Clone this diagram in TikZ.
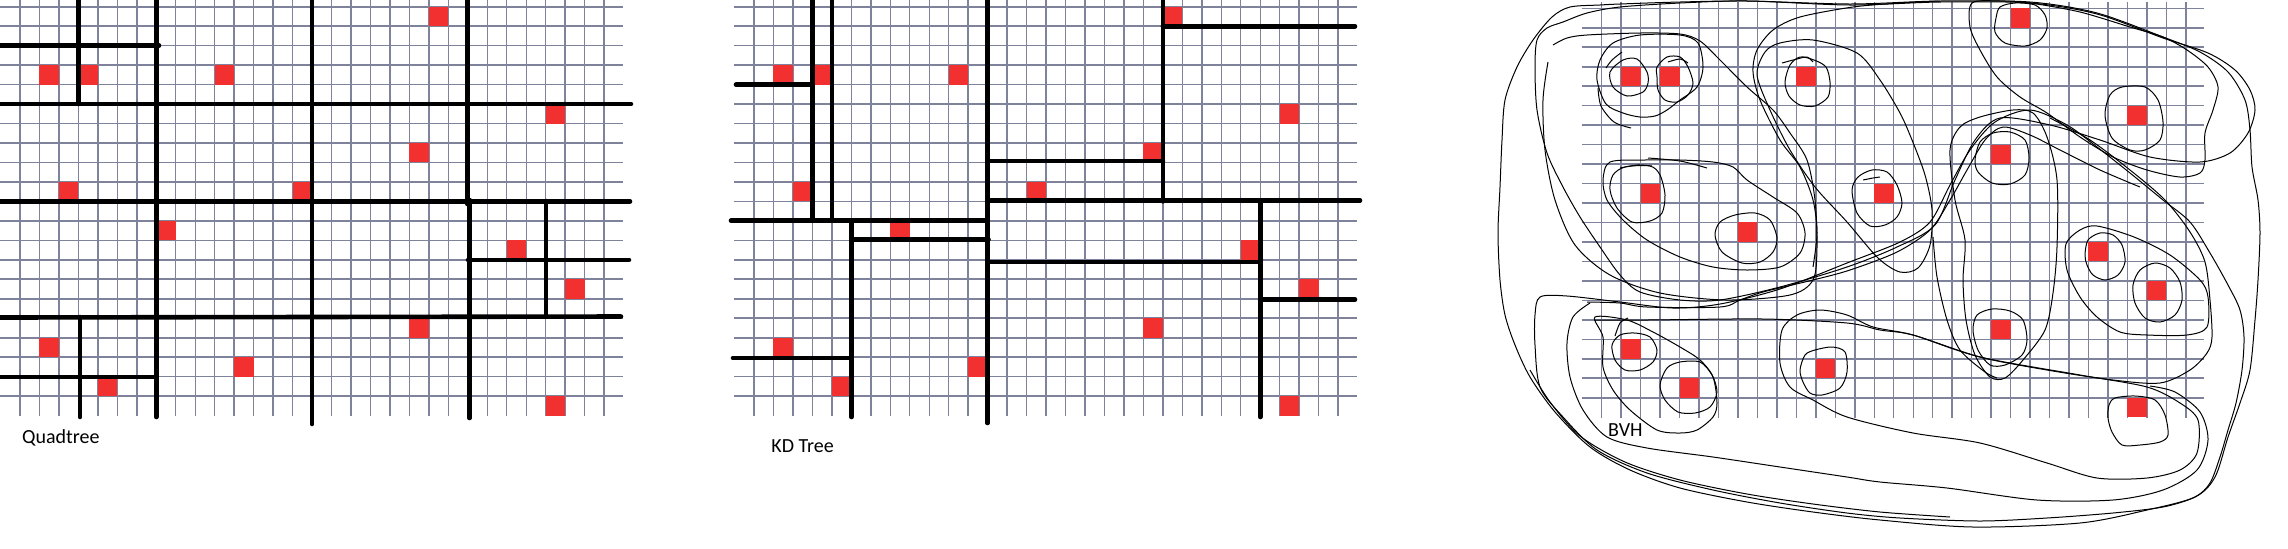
\documentclass[tikz,border=0pt]{standalone}
\usepackage{fontspec}
\setmainfont{Carlito}
\definecolor{gridc}{RGB}{126,130,155}
\definecolor{sqred}{RGB}{242,48,48}
\newcommand\gridpanel[2]{%
  \foreach \k in {0,...,30}{\draw[gridv] ({#1+20+19.47*\k},{#2}) -- ({#1+20+19.47*\k},{#2+416});}
  \foreach \j in {0,...,20}{\draw[gridh] ({#1},{#2+6.7+19.47*\j}) -- ({#1+622.7},{#2+6.7+19.47*\j});}
}
\newcommand\cellsq[4]{\fill[sq] ({#1+20+19.47*#3},{#2+6.7+19.47*#4}) rectangle ++(19.47,19.47);}
\newcommand\allsq[2]{\foreach \c/\r in {21/0,1/3,3/3,10/3,27/5,20/7,2/9,14/9,7/11,25/12,28/14,20/16,1/17,11/18,4/19,27/20}{\cellsq{#1}{#2}{\c}{\r}}}
\begin{document}
\begin{tikzpicture}[x=0.5pt,y=-0.5pt,
  gridv/.style={draw=gridc, line width=0.7pt},
  gridh/.style={draw=gridc, line width=0.8pt},
  sq/.style={fill=sqred},
  cutline/.style={line width=2.3pt, line cap=round, black},
  bvh/.style={line width=0.5pt, black},
  lbl/.style={anchor=base west, inner sep=0pt, font=\fontsize{10}{12}\selectfont}]
\useasboundingbox (0,0) rectangle (2288,548);
\fill[white] (0,0) rectangle (2288,548);
% ---------- grids and points ----------
\gridpanel{0}{0}
\gridpanel{734}{0}
\gridpanel{1581.7}{1.6}
\allsq{0}{0}
\allsq{734}{0}
\allsq{1581.7}{1.6}
% ---------- Quadtree ----------
\draw[cutline] (78.4,0) -- (78.4,104);
\draw[cutline] (156.3,0) -- (156.3,417);
\draw[cutline] (312,0) -- (312,424);
\draw[cutline] (467.5,0) -- (467.5,204);
\draw[cutline] (469.5,200) -- (469.5,418);
\draw[cutline] (546,201) -- (546,315);
\draw[cutline] (80,317) -- (80,417);
\draw[cutline] (0,45.6) -- (159,45.6);
\draw[cutline] (0,104) -- (631,104);
\draw[cutline] (0,201.4) -- (630,201.4);
\draw[cutline] (468,259.8) -- (629,259.8);
\draw[cutline] (0,317.5) -- (621,316.5);
\draw[cutline] (0,377) -- (155,377);
\node[lbl] (qlabel) at (21.7,443) {Quadtree};
% ---------- KD tree ----------
\draw[cutline] (812.4,0) -- (812.4,220.6);
\draw[cutline] (831.9,0) -- (831.9,220.6);
\draw[cutline] (851.4,220.6) -- (851.4,417);
\draw[cutline] (987.6,0) -- (987.6,423);
\draw[cutline] (1162.9,0) -- (1162.9,201.4);
\draw[cutline] (1260.2,201.4) -- (1260.2,417);
\draw[cutline] (736,84.6) -- (812.4,84.6);
\draw[cutline] (1162.9,26.2) -- (1355,26.2);
\draw[cutline] (987.6,161) -- (1163,161);
\draw[cutline] (987.6,200.5) -- (1360,200.5);
\draw[cutline] (731,220.6) -- (987.6,220.6);
\draw[cutline] (851.4,239.5) -- (988.5,239.5);
\draw[cutline] (987.6,262) -- (1260.2,262);
\draw[cutline] (1260.2,299.5) -- (1355,299.5);
\draw[cutline] (733,358) -- (851.4,358);
\node[lbl] (kdlabel) at (771,452.7) {KD Tree};
% ---------- BVH ----------
\node[lbl] (bvhlabel) at (1607.7,436.7) {BVH};
% small loops
\draw[bvh] plot[smooth cycle] coordinates {(1610,72) (1623,60) (1637,59) (1647,72) (1648,83) (1643,92) (1627,96) (1613,87)};
\draw[bvh] plot[smooth cycle] coordinates {(1657,67) (1667,57) (1680,57) (1688,67) (1693,83) (1688,95) (1677,102) (1665,100) (1658,90) (1657,77)};
\draw[bvh] plot[smooth cycle] coordinates {(1785,82) (1790,65) (1800,57) (1814,60) (1826,67) (1830,82) (1828,97) (1815,106) (1800,105) (1789,96)};
\draw[bvh] plot[smooth cycle] coordinates {(1996,18) (2000,7) (2015,3) (2035,5) (2045,15) (2047,28) (2040,40) (2025,46) (2005,43) (1995,32)};
\draw[bvh] plot[smooth cycle] coordinates {(2105,115) (2110,95) (2122,87) (2145,87) (2158,100) (2163,122) (2160,140) (2145,150) (2130,150) (2112,138)};
\draw[bvh] plot[smooth cycle] coordinates {(1975,160) (1980,142) (1993,133) (2010,132) (2025,140) (2029,158) (2025,175) (2010,184) (1992,183) (1978,172)};
\draw[bvh] plot[smooth cycle] coordinates {(1610,190) (1613,175) (1625,167) (1650,166) (1660,175) (1665,195) (1662,213) (1650,221) (1632,222) (1617,208)};
\draw[bvh] plot[smooth cycle] coordinates {(1852,190) (1858,177) (1872,170) (1887,172) (1897,185) (1902,203) (1897,217) (1885,225) (1870,226) (1857,213)};
\draw[bvh] plot[smooth cycle] coordinates {(1715,235) (1720,222) (1735,215) (1755,213) (1770,220) (1777,238) (1773,252) (1760,262) (1742,263) (1722,252)};
\draw[bvh] plot[smooth cycle] coordinates {(2085,255) (2088,240) (2100,233) (2113,235) (2122,245) (2125,262) (2118,275) (2105,280) (2093,275) (2087,265)};
\draw[bvh] plot[smooth cycle] coordinates {(2133,285) (2140,270) (2155,263) (2170,268) (2180,282) (2182,300) (2175,315) (2160,322) (2145,318) (2135,303)};
\draw[bvh] plot[smooth cycle] coordinates {(1973,330) (1977,315) (1992,309) (2010,311) (2023,320) (2027,340) (2022,355) (2005,365) (1990,365) (1978,350)};
\draw[bvh] plot[smooth cycle] coordinates {(1612,345) (1620,335) (1635,333) (1650,337) (1657,350) (1653,362) (1640,370) (1625,370) (1615,360)};
\draw[bvh] plot[smooth cycle] coordinates {(1800,370) (1805,355) (1815,350) (1832,347) (1845,352) (1847,372) (1840,388) (1822,395) (1810,393) (1803,382)};
\draw[bvh] plot[smooth cycle] coordinates {(1660,385) (1667,368) (1680,362) (1700,362) (1712,375) (1717,392) (1710,407) (1695,413) (1678,412) (1665,400)};
\draw[bvh] plot[smooth cycle] coordinates {(2108,418) (2109,405) (2115,398) (2135,396) (2155,400) (2165,415) (2168,435) (2160,442) (2140,445) (2122,445) (2112,432)};
% ticks
\draw[bvh] plot[smooth] coordinates {(1606,68) (1612,60) (1622,52)};
\draw[bvh] plot[smooth] coordinates {(1668,62) (1680,59) (1688,63)};
\draw[bvh] plot[smooth] coordinates {(1782,63) (1797,59) (1807,57) (1813,62)};
\draw[bvh] plot[smooth] coordinates {(1615,336) (1620,323) (1628,318)};
\draw[bvh] plot[smooth] coordinates {(1863,180) (1873,178) (1880,177)};
\draw[bvh] plot[smooth] coordinates {(1620,168) (1637,165) (1652,166)};
% group loops
\draw[bvh] plot[smooth cycle] coordinates {(1597,80) (1600,60) (1613,43) (1640,35) (1680,35) (1698,43) (1703,67) (1697,87) (1680,100) (1667,110) (1655,116) (1640,117) (1623,113) (1606,104)};
\draw[bvh] plot[smooth] coordinates {(1598,88) (1601,106) (1614,122) (1631,128)};
\draw[bvh] plot[smooth cycle] coordinates {(1610,162) (1603,180) (1607,200) (1623,220) (1647,240) (1680,257) (1713,267) (1747,270) (1780,267) (1800,253) (1805,233) (1797,213) (1773,197) (1747,180) (1733,167) (1713,162) (1680,160) (1645,160)};
\draw[bvh] plot[smooth] coordinates {(1648,158) (1680,161) (1707,168)};
\draw[bvh] plot[smooth cycle] coordinates {(1757,75) (1765,52) (1780,43) (1813,40) (1857,53) (1880,80) (1900,113) (1912,140) (1925,175) (1932,210) (1930,245) (1918,268) (1900,272) (1878,258) (1847,222) (1815,187) (1790,150) (1770,110)};
\draw[bvh] plot[smooth cycle] coordinates {(1972,3) (1970,27) (1980,50) (1997,77) (2020,97) (2047,113) (2080,137) (2113,157) (2147,170) (2180,177) (2200,173) (2205,160) (2205,133) (2213,110) (2218,87) (2208,67) (2187,50) (2163,37) (2130,27) (2080,12) (2030,3) (2000,1)};
\draw[bvh] plot[smooth cycle] coordinates {(1950,150) (1960,127) (1980,117) (2013,110) (2033,113) (2047,137) (2057,180) (2057,247) (2053,293) (2045,330) (2023,360) (2005,378) (1990,377) (1975,355) (1966,320) (1963,280) (1965,240) (1955,200)};
\draw[bvh] plot[smooth] coordinates {(1933,237) (1937,277) (1947,320) (1960,350) (1985,372) (1997,378)};
\draw[bvh] plot[smooth cycle] coordinates {(2066,244) (2080,230) (2097,226) (2134,237) (2170,255) (2200,280) (2208,297) (2207,327) (2187,335) (2147,335) (2120,332) (2097,317) (2080,297) (2067,270)};
\draw[bvh] plot[smooth cycle] coordinates {(1595,317) (1627,320) (1653,332) (1680,347) (1700,360) (1713,377) (1717,403) (1713,417) (1697,430) (1680,433) (1657,430) (1630,410) (1613,390) (1603,367) (1603,337)};
\draw[bvh] plot[smooth cycle] coordinates {(1782,330) (1797,315) (1820,310) (1847,315) (1873,327) (1913,335) (1980,357) (2080,375) (2147,387) (2180,403) (2198,420) (2197,453) (2180,470) (2147,478) (2097,478) (2047,463) (1980,443) (1913,433) (1847,417) (1813,400) (1790,387) (1780,363)};
% big loops
\draw[bvh] plot[smooth] coordinates {(1553,45) (1567,38) (1587,35) (1640,33) (1680,34) (1700,41) (1720,60) (1747,87) (1773,110) (1790,133) (1807,160) (1815,200) (1817,247) (1813,280) (1790,295) (1726,300) (1660,293) (1610,275) (1575,245) (1555,200) (1545,150) (1543,100) (1548,62)};
\draw[bvh] plot[smooth] coordinates {(1813,267) (1817,233) (1813,200) (1800,167) (1780,140) (1760,100) (1753,72) (1757,50) (1773,30) (1800,17) (1853,7) (1900,3) (1940,1)};
\draw[bvh] plot[smooth cycle] coordinates {(1537,40) (1547,28) (1563,22) (1587,13) (1620,7) (1680,3) (1748,1) (1850,5) (1940,2) (2030,3) (2097,14) (2163,38) (2208,53) (2235,70) (2250,90) (2255,110) (2248,133) (2230,153) (2200,162) (2150,157) (2100,140) (2050,125) (2000,118) (1975,140) (1955,180) (1935,225) (1897,247) (1847,267) (1780,287) (1720,300) (1680,300) (1640,292) (1620,275) (1600,247) (1580,217) (1563,187) (1547,153) (1537,110) (1535,67)};
\draw[bvh] plot[smooth] coordinates {(2140,187) (2100,170) (2060,150) (2030,135) (2003,127) (1985,140) (1967,170) (1950,200) (1930,230) (1897,252) (1850,270) (1813,280) (1763,292) (1740,300) (1720,307) (1647,307) (1620,303) (1587,302)};
\draw[bvh] plot[smooth cycle] coordinates {(1540,297) (1567,296) (1620,302) (1673,308) (1720,304) (1780,289) (1847,263) (1900,242) (1930,222) (1950,185) (1970,150) (1995,122) (2030,110) (2067,125) (2097,147) (2130,173) (2163,200) (2190,222) (2210,253) (2228,285) (2240,310) (2244,337) (2242,370) (2236,403) (2228,430) (2220,457) (2210,483) (2195,497) (2163,507) (2113,513) (2047,518) (1980,521) (1900,518) (1847,513) (1780,503) (1713,490) (1647,473) (1597,450) (1563,417) (1540,387) (1535,345) (1535,315)};
\draw[bvh] plot[smooth cycle] coordinates {(1600,5) (1570,7) (1552,17) (1533,40) (1517,67) (1505,100) (1502,140) (1500,187) (1498,233) (1500,280) (1505,315) (1515,345) (1530,377) (1555,412) (1590,447) (1630,470) (1680,488) (1747,502) (1813,512) (1880,520) (1973,527) (2080,523) (2147,510) (2195,497) (2215,477) (2228,437) (2240,403) (2250,370) (2255,320) (2258,280) (2260,233) (2258,200) (2252,167) (2250,130) (2245,100) (2228,72) (2200,52) (2163,37) (2097,13) (2030,2) (1940,1) (1850,4) (1748,1) (1680,2) (1620,4)};
\draw[bvh] plot[smooth] coordinates {(2050,118) (2090,140) (2130,170) (2165,200) (2190,232) (2205,262) (2210,300) (2212,337) (2207,353) (2190,370) (2160,383) (2113,380) (2047,370) (1980,357) (1913,335) (1880,330) (1847,323) (1763,319) (1647,320) (1595,320)};
\draw[bvh] plot[smooth] coordinates {(1590,303) (1573,317) (1567,343) (1570,377) (1583,410) (1607,437) (1647,448) (1713,457) (1780,467) (1847,477) (1880,482) (1947,488) (2037,500) (2113,500) (2163,490) (2197,470) (2208,440) (2200,412) (2175,392) (2150,386)};
\draw[bvh] plot[smooth] coordinates {(1530,370) (1550,402) (1580,436) (1625,462) (1680,480) (1747,494) (1813,504) (1880,512) (1950,517)};
\end{tikzpicture}
\end{document}
